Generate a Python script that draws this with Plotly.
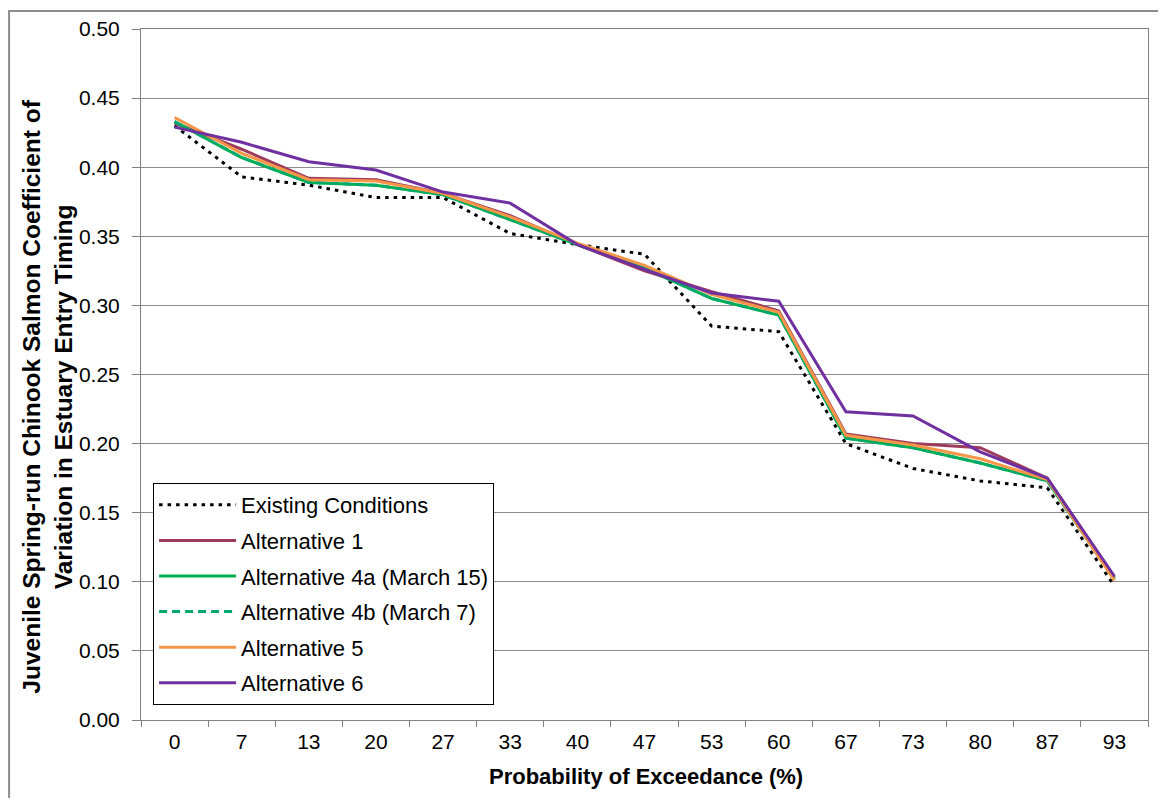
import plotly.graph_objects as go

categories = ["0", "7", "13", "20", "27", "33", "40", "47", "53", "60", "67", "73", "80", "87", "93"]

existing = [0.430, 0.393, 0.387, 0.378, 0.378, 0.352, 0.344, 0.337, 0.285, 0.281, 0.200, 0.182, 0.173, 0.168, 0.097]
alt1 = [0.432, 0.413, 0.392, 0.391, 0.381, 0.365, 0.344, 0.325, 0.310, 0.296, 0.207, 0.200, 0.197, 0.175, 0.103]
alt4a = [0.433, 0.407, 0.389, 0.387, 0.380, 0.362, 0.344, 0.327, 0.305, 0.293, 0.204, 0.197, 0.186, 0.173, 0.102]
alt4b = [0.433, 0.407, 0.389, 0.387, 0.380, 0.362, 0.344, 0.327, 0.305, 0.293, 0.204, 0.197, 0.186, 0.173, 0.102]
alt5 = [0.436, 0.410, 0.391, 0.390, 0.381, 0.364, 0.345, 0.329, 0.308, 0.295, 0.206, 0.199, 0.189, 0.174, 0.101]
alt6 = [0.429, 0.418, 0.404, 0.398, 0.382, 0.374, 0.344, 0.326, 0.309, 0.303, 0.223, 0.220, 0.194, 0.175, 0.104]

series = [
    ("Existing Conditions", existing, "#000000", "3.5px,5px"),
    ("Alternative 1", alt1, "#9E3B5C", "solid"),
    ("Alternative 4a (March 15)", alt4a, "#00B050", "solid"),
    ("Alternative 4b (March 7)", alt4b, "#00A86B", "8px,5px"),
    ("Alternative 5", alt5, "#F79646", "solid"),
    ("Alternative 6", alt6, "#7030A0", "solid"),
]

FONT = "Liberation Sans, Arial, sans-serif"

fig = go.Figure()
for i, (name, vals, color, dash) in enumerate(series):
    fig.add_trace(go.Scatter(
        x=categories, y=vals, name=name, mode="lines",
        line=dict(color=color, width=3, dash=dash),
        legendgroup="g%d" % i,
    ))

fig.update_layout(
    width=1150, height=790,
    margin=dict(l=133, r=9, t=19, b=78),
    paper_bgcolor="white", plot_bgcolor="white",
    font=dict(family=FONT, size=21, color="#000000"),
    showlegend=True,
    legend=dict(
        x=0.012, y=0.343, xanchor="left", yanchor="top",
        bgcolor="white", bordercolor="#000000", borderwidth=1,
        font=dict(family=FONT, size=22, color="#000000"),
        tracegroupgap=4, itemwidth=77,
    ),
    xaxis=dict(
        type="category", range=[-0.5, 14.5], showgrid=False, showline=True,
        linecolor="#808080", linewidth=1, mirror=True, ticks="outside",
        tickson="boundaries", ticklen=6, tickcolor="#808080",
        tickfont=dict(family=FONT, size=21), zeroline=False, ticklabelstandoff=3,
    ),
    yaxis=dict(
        range=[0, 0.5], dtick=0.05, tickformat=".2f", showgrid=True, gridcolor="#8C8C8C",
        gridwidth=1, showline=True, linecolor="#808080", linewidth=1, mirror=True,
        ticks="outside", ticklen=8, tickcolor="#808080", zeroline=False,
        tickfont=dict(family=FONT, size=21), ticklabelstandoff=8,
    ),
    annotations=[
        dict(text="Juvenile Spring-run Chinook Salmon Coefficient of<br>Variation in Estuary Entry Timing",
             xref="paper", yref="paper", x=-0.0923, y=0.468, xanchor="center", yanchor="middle",
             textangle=-90, showarrow=False,
             font=dict(family=FONT, size=24.5, color="#000000", weight="bold")),
        dict(text="Probability of Exceedance (%)", xref="paper", yref="paper",
             x=0.501, y=-0.0824, xanchor="center", yanchor="middle", showarrow=False,
             font=dict(family=FONT, size=22, color="#000000", weight="bold")),
    ],
    shapes=[
        dict(type="rect", xref="paper", yref="paper", x0=-0.131, x1=1.03, y0=-0.14, y1=1.026,
             line=dict(color="#8C8C8C", width=2), fillcolor="rgba(0,0,0,0)", layer="below"),
    ],
)

fig.write_html("out.html")
